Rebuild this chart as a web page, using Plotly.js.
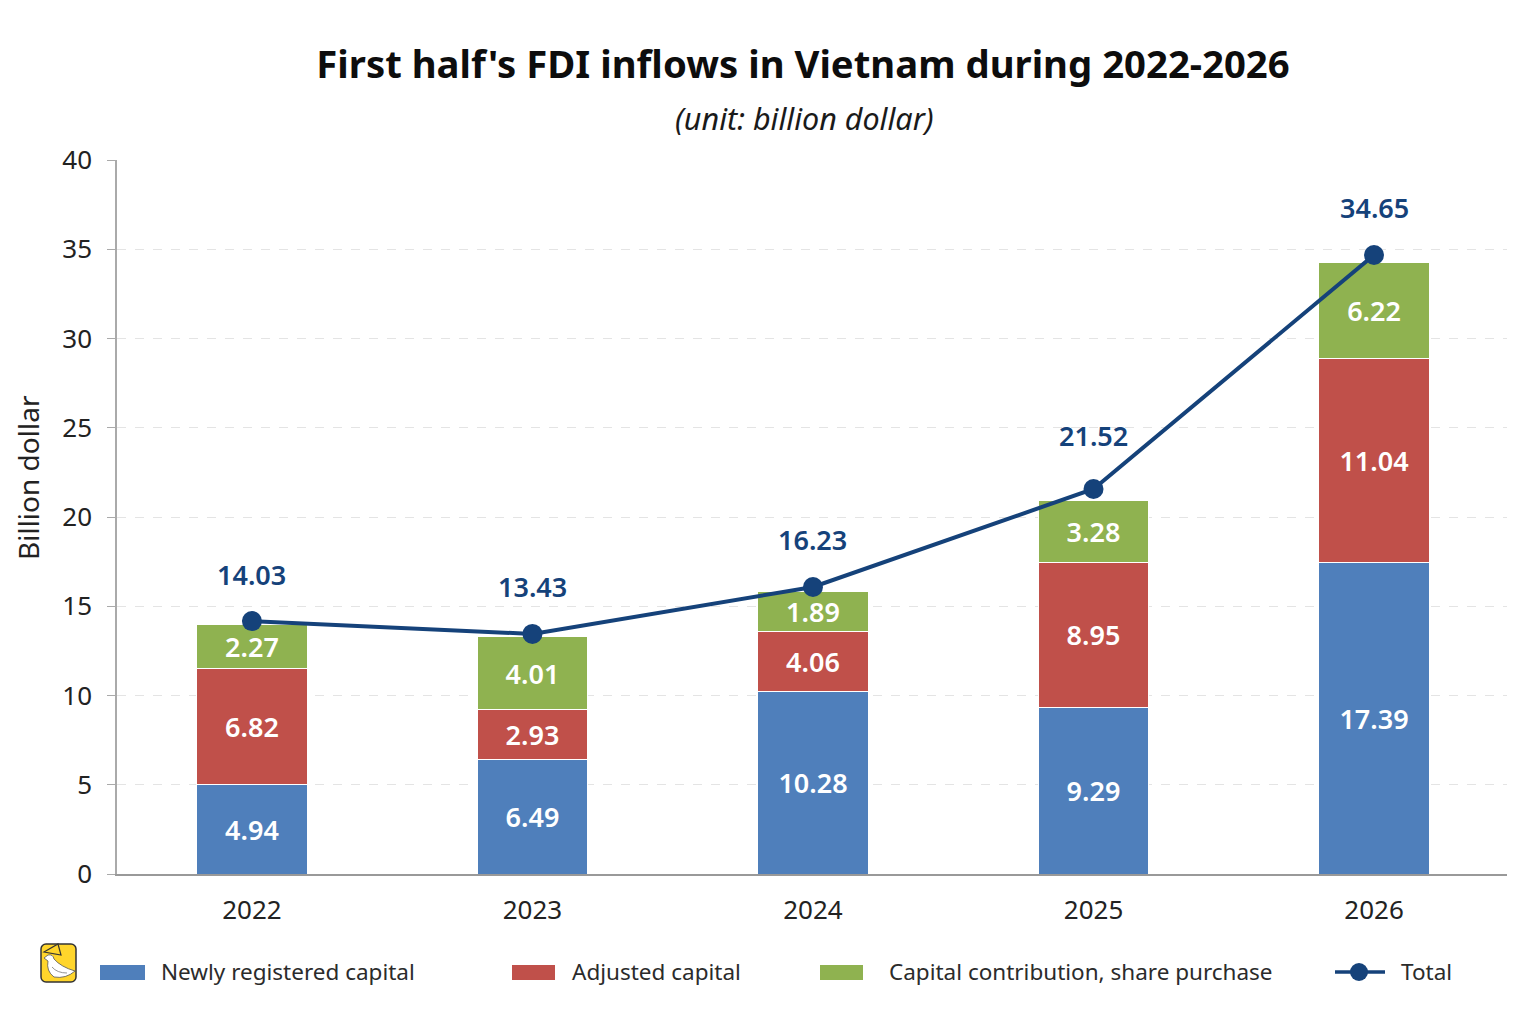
<!DOCTYPE html>
<html>
<head>
<meta charset="utf-8">
<script src="https://cdn.plot.ly/plotly-3.0.1.min.js"></script>
<style>html,body{margin:0;padding:0;background:#fff}</style>
</head>
<body>
<div id="plot" style="width:1536px;height:1024px"></div>
<script>
var years = ["2022", "2023", "2024", "2025", "2026"];
// segment heights as drawn in the picture, the printed labels differ a little
var newHeights = [5.0, 6.4, 10.2, 9.35, 17.45];
var adjHeights = [6.5, 2.8, 3.4, 8.1, 11.45];
var conHeights = [2.5, 4.1, 2.2, 3.45, 5.35];
var totalHeights = [14.17, 13.45, 16.08, 21.57, 34.68];
var newLabels = ["4.94", "6.49", "10.28", "9.29", "17.39"];
var adjLabels = ["6.82", "2.93", "4.06", "8.95", "11.04"];
var conLabels = ["2.27", "4.01", "1.89", "3.28", "6.22"];
var totalLabels = ["14.03", "13.43", "16.23", "21.52", "34.65"];
var legendNames = ["Newly registered capital", "Adjusted capital", "Capital contribution, share purchase", "Total"];

var blue = "#4f7fbb", red = "#c0504a", green = "#8fb250", navy = "#15427a";
var fontName = "Noto Sans, Open Sans, sans-serif";

// plot area in page pixels, used for the legend and the free texts
var left = 117, right = 1507, top_ = 160, bottom = 874;
function px(x) { return (x - left) / (right - left); }
function py(y) { return (bottom - y) / (bottom - top_); }

function barTrace(name, vals, labels, color) {
    return {
        type: "bar", name: name, x: years, y: vals,
        text: labels,
        textposition: "inside", insidetextanchor: "middle", textangle: 0,
        insidetextfont: {family: fontName, size: 27, color: "#ffffff", weight: 600},
        constraintext: "none",
        marker: {color: color, line: {color: "#ffffff", width: 1}},
        hoverinfo: "skip"
    };
}

var data = [
    barTrace(legendNames[0], newHeights, newLabels, blue),
    barTrace(legendNames[1], adjHeights, adjLabels, red),
    barTrace(legendNames[2], conHeights, conLabels, green),
    {
        type: "scatter", mode: "lines+markers", name: legendNames[3],
        x: years, y: totalHeights,
        line: {color: navy, width: 4},
        marker: {color: navy, size: 20}
    }
];

var annotations = totalLabels.map(function (t, i) {
    return {
        x: i, y: totalHeights[i], text: t, showarrow: false,
        yshift: i == 3 ? 53 : 47,
        font: {family: fontName, size: 27, color: navy, weight: 600}
    };
});
annotations.push({
    xref: "paper", yref: "paper", x: px(804), y: py(118), text: "<i>(unit: billion dollar)</i>",
    xanchor: "center", yanchor: "middle",
    showarrow: false, font: {size: 30.5, color: "#1a1a1a"}
});
annotations.push({
    xref: "paper", yref: "paper", x: px(28), y: py(478), text: "Billion dollar",
    xanchor: "center", yanchor: "middle",
    textangle: -90, showarrow: false, font: {size: 28, color: "#222"}
});

// legend row
var swatches = [[100, 145, blue], [512, 555, red], [820, 863, green]];
var legendText = [159, 570, 887, 1399];
var shapes = swatches.map(function (s) {
    return {
        type: "rect", xref: "paper", yref: "paper",
        x0: px(s[0]), x1: px(s[1]), y0: py(980), y1: py(965),
        fillcolor: s[2], line: {width: 0}
    };
});
shapes.push({
    type: "line", xref: "paper", yref: "paper",
    x0: px(1335), x1: px(1385), y0: py(972), y1: py(972),
    line: {color: navy, width: 3.5}
});
shapes.push({
    type: "circle", xref: "paper", yref: "paper",
    x0: px(1350), x1: px(1368), y0: py(981), y1: py(963),
    fillcolor: navy, line: {width: 0}
});
legendNames.forEach(function (n, i) {
    annotations.push({
        xref: "paper", yref: "paper", x: px(legendText[i]), y: py(971),
        xanchor: "left", yanchor: "middle",
        text: n, showarrow: false, font: {size: 22.5, color: "#2b2b2b"}
    });
});

var logo = "data:image/svg+xml," + encodeURIComponent(
    "<svg xmlns='http://www.w3.org/2000/svg' viewBox='0 0 37 40'>" +
    "<rect x='1' y='1' width='35' height='38' rx='5' fill='#ffd52b' stroke='#333' stroke-width='1.5'/>" +
    "<path d='M4 9 L18 1 L21 12 Z' fill='#ffd52b' stroke='#333' stroke-width='1.2'/>" +
    "<path d='M4 15 L8 12 Q13 11 14 16 Q21 24 35 28 Q26 36 14 34 Q6 28 8 18 Z' fill='#fff' stroke='#555' stroke-width='0.8'/>" +
    "<path d='M12 24 Q17 30 27 30' fill='none' stroke='#888' stroke-width='0.9'/>" +
    "</svg>");

var layout = {
    width: 1536, height: 1024,
    paper_bgcolor: "#fff", plot_bgcolor: "#fff",
    font: {family: fontName, color: "#222"},
    title: {
        text: "<b>First half's FDI inflows in Vietnam during 2022-2026</b>",
        font: {size: 38.3, color: "#0d0d0d"},
        x: 803 / 1536, xanchor: "center", y: 1 - 65 / 1024, yanchor: "middle"
    },
    margin: {l: left, r: 1536 - right, t: top_, b: 1024 - bottom},
    barmode: "stack", bargap: 0.605,
    showlegend: false,
    xaxis: {
        type: "category",
        range: [-0.481, 4.474],
        tickfont: {size: 26, color: "#222"}, ticks: "", ticklen: 0, ticklabelstandoff: 12,
        showline: true, linecolor: "#999", linewidth: 1.5, showgrid: false
    },
    yaxis: {
        range: [0, 40], dtick: 5,
        tickfont: {size: 26, color: "#222"}, ticks: "outside", ticklen: 8, tickcolor: "#aaa",
        ticklabelstandoff: 10,
        showline: true, linecolor: "#aaa", linewidth: 1.5,
        gridcolor: "#e4e4e4", griddash: "dash", gridwidth: 1, zeroline: false
    },
    annotations: annotations,
    shapes: shapes,
    images: [{
        source: logo, xref: "paper", yref: "paper",
        x: px(40), y: py(943), sizex: 37 / (right - left), sizey: 40 / (bottom - top_),
        xanchor: "left", yanchor: "top", layer: "above"
    }]
};

Plotly.newPlot("plot", data, layout, {displayModeBar: false});
</script>
</body>
</html>
